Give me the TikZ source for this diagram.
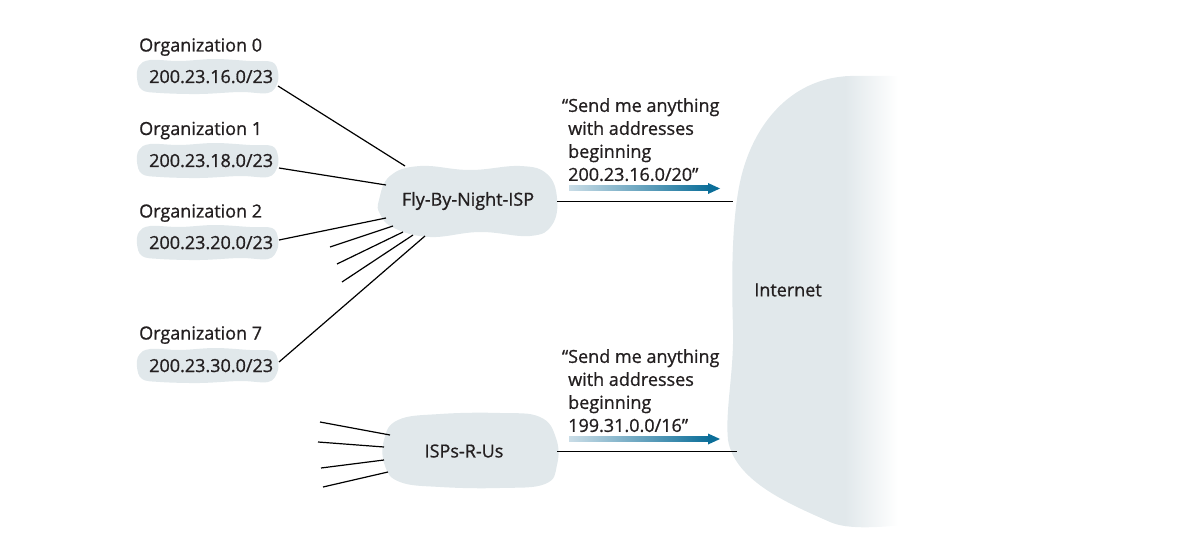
\documentclass[tikz,border=0pt]{standalone}
\usepackage{fontspec}
\setmainfont{Open Sans}[FakeBold=0.9]
\definecolor{blobc}{HTML}{E1E8EB}
\definecolor{txt}{HTML}{231F20}
\definecolor{arrdark}{HTML}{0B6E99}
\definecolor{arrlight}{HTML}{CADDE7}
\newcommand\orgcloud[1]{\fill[blobc, shift={(0,#1)}] plot[smooth cycle, tension=0.6] coordinates {(137,2) (139,-10) (150,-16) (180,-15) (215,-17) (250,-15) (272,-14) (278,-4) (277,8) (268,17) (240,16) (200,18) (160,17) (142,14)};}
\newcommand\gradarrow[1]{%
  \shade[left color=arrlight, right color=arrdark, shift={(0,#1)}] (569,-2.5) rectangle (710,2.5);
  \fill[arrdark, shift={(0,#1)}] (708,-5.5) -- (720,0) -- (708,5.5) -- cycle;}
\begin{document}
\begin{tikzpicture}[x=1pt,y=-1pt,
  every node/.style={font=\fontsize{18}{23}\selectfont, inner sep=0pt, text=txt},
  link/.style={draw=black, line width=1.2pt},
  lbl/.style={anchor=base west},
  quote/.style={anchor=north west, align=left}]
\useasboundingbox (0,0) rectangle (1188,540);
% Internet cloud
\begin{scope}
\clip (905,76) -- (850,76) .. controls (795,78) and (758,118) .. (743,170)
  .. controls (730,215) and (732,290) .. (733,330)
  .. controls (734,372) and (725,410) .. (728,440)
  .. controls (735,482) and (792,505) .. (830,522)
  .. controls (846,529) and (872,528) .. (905,525) -- cycle;
\fill[blobc] (700,60) rectangle (846,540);
\shade[left color=blobc, right color=white] (845,60) rectangle (898,540);
\end{scope}
\node (inet) at (788,290) {Internet};
% organisation clouds
\orgcloud{76}
\orgcloud{160}
\orgcloud{242}
\orgcloud{365}
% ISP clouds
\fill[blobc] plot[smooth cycle, tension=0.7] coordinates {(379,200) (390,176) (420,166) (470,170) (520,166) (547,174) (557,198) (552,225) (530,236) (480,232) (430,237) (394,228) (380,214)};
\fill[blobc] plot[smooth cycle, tension=0.7] coordinates {(384,440) (398,420) (440,414) (500,413) (540,417) (556,438) (557,465) (545,484) (500,488) (440,487) (400,482) (385,466)};
% labels
\node[lbl] (org0) at (139,51.5) {Organization 0};
\node[lbl] (org1) at (139,135) {Organization 1};
\node[lbl] (org2) at (139,217.5) {Organization 2};
\node[lbl] (org7) at (139,339.5) {Organization 7};
\node[lbl] (a0) at (149,83) {200.23.16.0/23};
\node[lbl] (a1) at (149,167) {200.23.18.0/23};
\node[lbl] (a2) at (149,249) {200.23.20.0/23};
\node[lbl] (a7) at (149,372) {200.23.30.0/23};
\node (fbn) at (468,201) {Fly-By-Night-ISP};
\node (isp) at (464,451) {ISPs-R-Us};
\node[quote] (q1) at (568,98) {\llap{“}Send me anything\\with addresses\\beginning\\200.23.16.0/20”};
\node[quote] (q2) at (568,349) {\llap{“}Send me anything\\with addresses\\beginning\\199.31.0.0/16”};
% connector end points
\coordinate (a0e) at (278,86);  \coordinate (f0) at (405,166);
\coordinate (a1e) at (279,168); \coordinate (f1) at (386,185);
\coordinate (a2e) at (279,240); \coordinate (f2) at (386,218);
\coordinate (s1a) at (330,247); \coordinate (s1b) at (393,226);
\coordinate (s2a) at (337,264); \coordinate (s2b) at (403,232);
\coordinate (s3a) at (342,282); \coordinate (s3b) at (413,235);
\coordinate (a7e) at (279,362); \coordinate (f7) at (425,236);
\coordinate (r1a) at (320,422); \coordinate (r1b) at (390,435);
\coordinate (r2a) at (318,442); \coordinate (r2b) at (384,447);
\coordinate (r3a) at (321,468); \coordinate (r3b) at (384,460);
\coordinate (r4a) at (323,487); \coordinate (r4b) at (388,472);
\coordinate (fo) at (557,201.5); \coordinate (ia) at (733,201.5);
\coordinate (io) at (557,451.5);  \coordinate (ib) at (737,451.5);
\draw[link] (a0e) -- (f0);
\draw[link] (a1e) -- (f1);
\draw[link] (a2e) -- (f2);
\draw[link] (s1a) -- (s1b);
\draw[link] (s2a) -- (s2b);
\draw[link] (s3a) -- (s3b);
\draw[link] (a7e) -- (f7);
\draw[link] (r1a) -- (r1b);
\draw[link] (r2a) -- (r2b);
\draw[link] (r3a) -- (r3b);
\draw[link] (r4a) -- (r4b);
\draw[link] (fo) -- (ia);
\draw[link] (io) -- (ib);
% announcement arrows
\gradarrow{188.5}
\gradarrow{439}
\end{tikzpicture}
\end{document}
